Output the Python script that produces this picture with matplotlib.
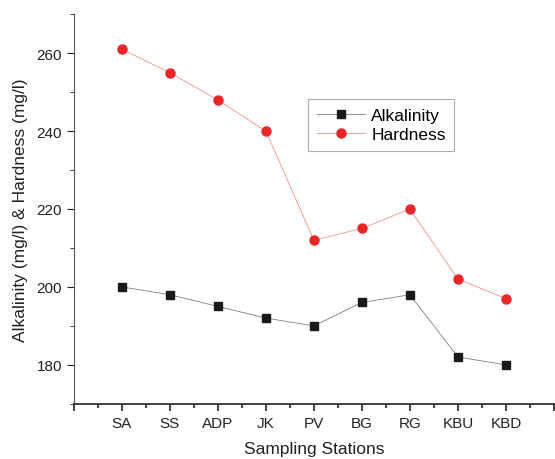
import matplotlib
matplotlib.use("Agg")
import matplotlib.pyplot as plt
from matplotlib.ticker import MultipleLocator

plt.rcParams['font.family'] = ['Liberation Sans', 'DejaVu Sans']

stations = ['SA', 'SS', 'ADP', 'JK', 'PV', 'BG', 'RG', 'KBU', 'KBD']
alkalinity = [200, 198, 195, 192, 190, 196, 198, 182, 180]
hardness = [261, 255, 248, 240, 212, 215, 220, 202, 197]

x = list(range(1, len(stations) + 1))

fig = plt.figure(figsize=(5.55, 4.6), dpi=100)
ax = fig.add_axes([0.133, 0.12, 0.865, 0.847])

ax.plot(x, alkalinity, color='#808080', lw=0.6, marker='s', ms=5.5,
        mfc='#1a1a1a', mec='#1a1a1a', label='Alkalinity')
ax.plot(x, hardness, color='#f4908a', lw=0.6, marker='o', ms=6.5,
        mfc='#e8262a', mec='#e8262a', label='Hardness')

ax.set_xlim(0, 10)
ax.set_ylim(170, 270)
ax.set_xticks(range(0, 11))
ax.set_xticklabels([''] + stations + [''])
ax.xaxis.set_minor_locator(MultipleLocator(0.5))
ax.set_yticks(range(180, 261, 20))
ax.yaxis.set_minor_locator(MultipleLocator(10))

for s in ['top', 'right']:
    ax.spines[s].set_visible(False)
ax.spines['left'].set_color('#555555')
ax.spines['left'].set_linewidth(0.8)
ax.spines['bottom'].set_color('#222222')
ax.spines['bottom'].set_linewidth(1.2)

ax.tick_params(axis='both', which='major', direction='out', length=5, labelsize=11, colors='#222222')
ax.tick_params(axis='both', which='minor', direction='out', length=3, colors='#222222')
ax.tick_params(axis='x', which='both', width=1.2)

ax.set_xlabel('Sampling Stations', fontsize=12.5, color='#222222', labelpad=8)
ax.set_ylabel('Alkalinity (mg/l) & Hardness (mg/l)', fontsize=12.5, color='#222222', labelpad=6)

leg = ax.legend(loc='upper left', bbox_to_anchor=(0.4875, 0.782), fontsize=12.5,
                frameon=True, fancybox=False, edgecolor='#999999',
                handlelength=2.8, handletextpad=0.35, borderpad=0.5,
                labelspacing=0.25, borderaxespad=0)
leg.get_frame().set_linewidth(0.8)

fig.savefig('out.png', dpi=100)
